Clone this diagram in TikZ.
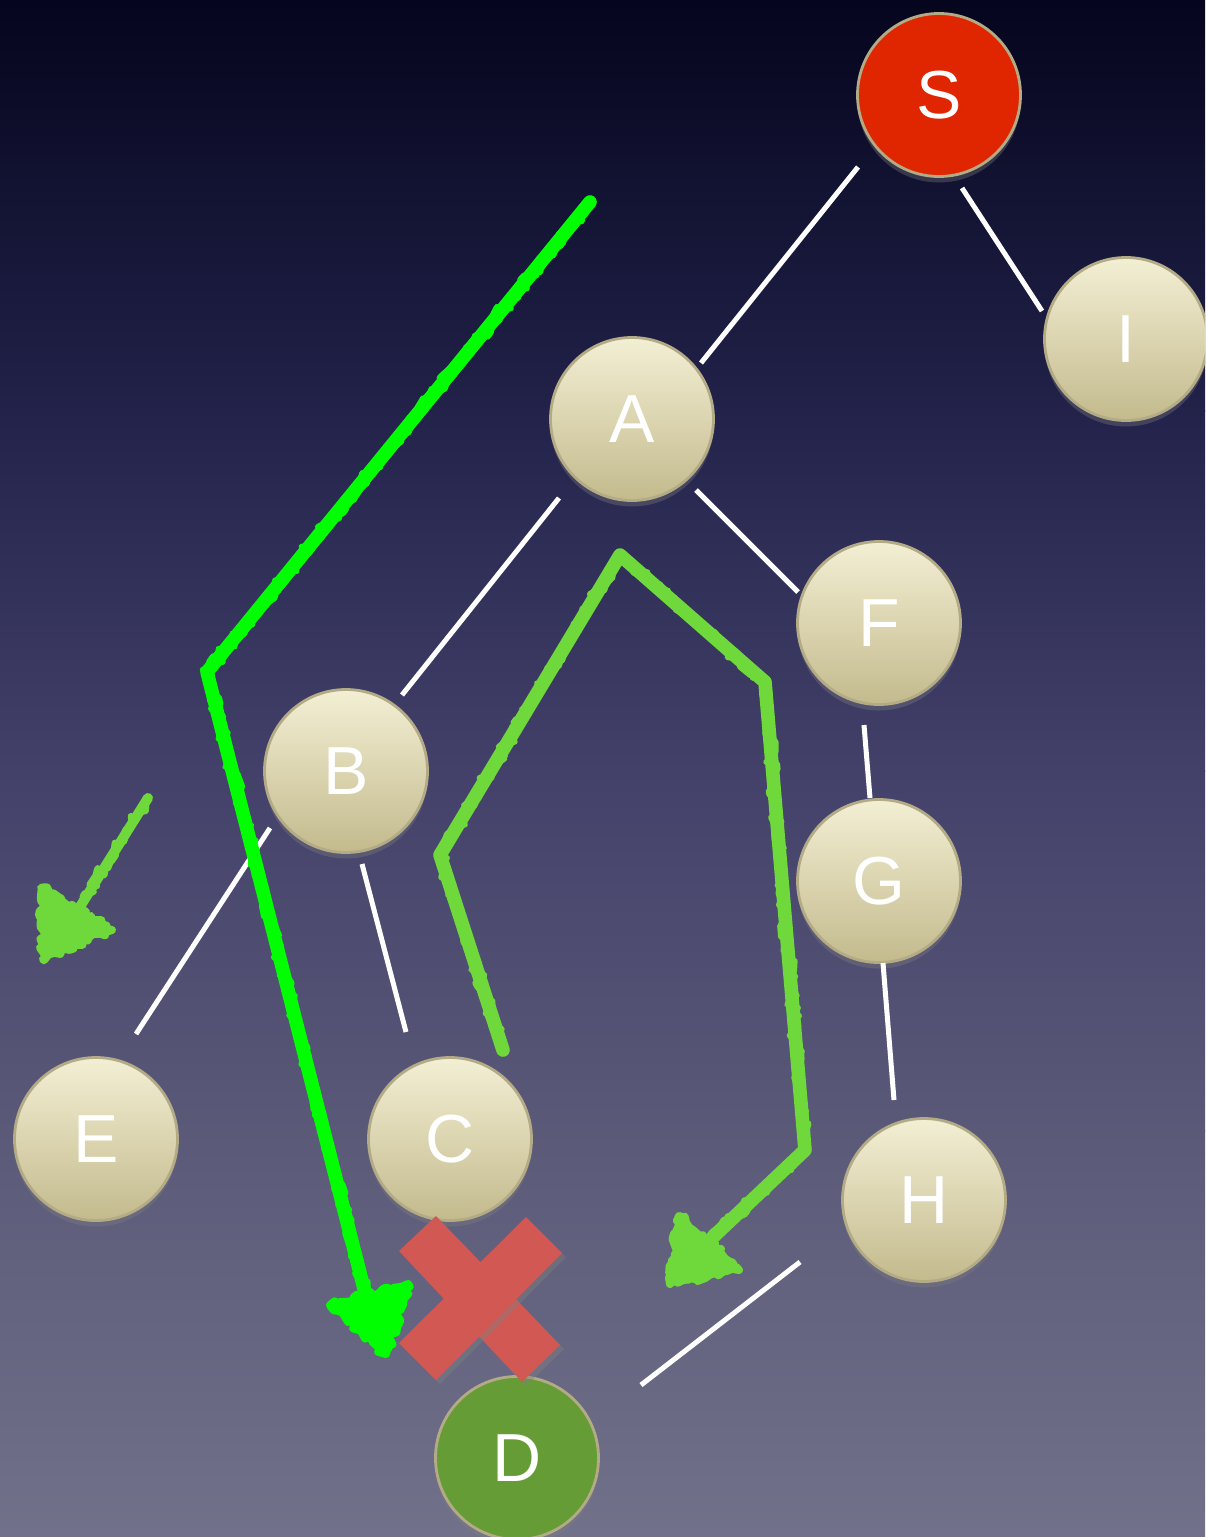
\documentclass[tikz,border=0pt]{standalone}
\usepackage{fontspec}
\setmainfont{Liberation Sans}
\usetikzlibrary{shadows,calc,decorations.pathmorphing}
\definecolor{bg0}{HTML}{05051E}
\definecolor{bg1}{HTML}{22224A}
\definecolor{bg2}{HTML}{43416A}
\definecolor{bg3}{HTML}{5A5978}
\definecolor{bg4}{HTML}{72718A}
\definecolor{creamtop}{HTML}{F3EFD4}
\definecolor{creambot}{HTML}{C3BA8D}
\definecolor{rim}{HTML}{B3AA86}
\definecolor{sred}{HTML}{E02600}
\definecolor{dgreen}{HTML}{669C35}
\definecolor{xred}{HTML}{D15853}
\definecolor{brightg}{HTML}{00FF00}
\definecolor{softg}{HTML}{6FD83B}
\pgfmathsetseed{7}
\begin{document}
\begin{tikzpicture}[x=0.5pt,y=-0.5pt,
  nbase/.style={circle, minimum size=81.5pt, inner sep=0pt, draw=rim, line width=1.4pt,
    text=white, font=\fontsize{34pt}{40pt}\selectfont,
    drop shadow={opacity=0.35, shadow xshift=0pt, shadow yshift=-3pt}},
  cream/.style={nbase, top color=creamtop, bottom color=creambot},
  redn/.style={nbase, fill=sred},
  greenn/.style={nbase, fill=dgreen},
  edge/.style={white, line width=2.5pt},
  chalk/.style={line width=6.8pt, line cap=round, line join=round,
    postaction={draw, line width=3.2pt, line cap=round, line join=round, decorate,
      decoration={random steps, segment length=2pt, amplitude=2.8pt}}},
  chalkhead/.style={line width=4pt, line join=round, decorate,
    decoration={random steps, segment length=2pt, amplitude=1.8pt}},
  xbar/.style={fill=xred, drop shadow={opacity=0.4, shadow xshift=2pt, shadow yshift=-2pt}}]
\useasboundingbox (0,0) rectangle (1205,1537);
\clip (0,0) rectangle (1205,1537);
% background gradient in bands
\shade[top color=bg0, bottom color=bg1] (0,0) rectangle (1205,411);
\shade[top color=bg1, bottom color=bg2] (0,410) rectangle (1205,771);
\shade[top color=bg2, bottom color=bg3] (0,770) rectangle (1205,1131);
\shade[top color=bg3, bottom color=bg4] (0,1130) rectangle (1205,1537);

% nodes
\node[redn]   (S) at (939,95)   {S};
\node[cream]  (I) at (1126,339) {I};
\node[cream]  (A) at (632,419)  {A};
\node[cream]  (F) at (879,623)  {F};
\node[cream]  (B) at (346,771)  {B};
\node[cream]  (G) at (879,881)  {G};
\node[cream]  (E) at (96,1139)  {E};
\node[cream]  (C) at (450,1139) {C};
\node[cream]  (H) at (924,1200) {H};
\node[greenn] (D) at (517,1458) {D};

% edges
\draw[edge] ($(S)+(-81,72)$) -- ($(A)+(69,-56)$);
\draw[edge] ($(S)+(23,93)$) -- ($(I)+(-84,-28)$);
\draw[edge] ($(A)+(-73,79)$) -- ($(B)+(56,-76)$);
\draw[edge] ($(A)+(64,71)$) -- ($(F)+(-81,-31)$);
\draw[edge] ($(F)+(-15,102)$) -- ($(G)+(-9,-83)$);
\draw[edge] ($(B)+(-76,57)$) -- ($(E)+(40,-105)$);
\draw[edge] ($(B)+(16,93)$) -- ($(C)+(-44,-107)$);
\draw[edge] ($(G)+(4,82)$) -- ($(H)+(-30,-100)$);
\draw[edge] ($(H)+(-124,62)$) -- ($(D)+(124,-73)$);

% red cross
\fill[xbar] (436,1216) -- (560,1345) -- (522,1382) -- (399,1251) -- cycle;
\fill[xbar] (526,1217) -- (562,1253) -- (436,1380) -- (399,1343) -- cycle;

% green arrow 1
\coordinate (p1) at (590,202);
\coordinate (p2) at (207,672);
\coordinate (p3) at (372,1320);
\draw[chalk, brightg] (p1) -- (p2) -- (p3);
\coordinate (h1a) at (386,1354);
\coordinate (h1b) at (330,1305);
\coordinate (h1c) at (408,1284);
\filldraw[chalkhead, brightg] (h1a) -- (h1b) -- (h1c) -- cycle;

% green arrow 2
\coordinate (q1) at (148,798);
\coordinate (q2) at (78,910);
\draw[chalk, softg, line width=5pt] (q1) -- (q2);
\coordinate (h2a) at (43,959);
\coordinate (h2b) at (41,888);
\coordinate (h2c) at (112,930);
\filldraw[chalkhead, softg] (h2a) -- (h2b) -- (h2c) -- cycle;

% green arrow 3
\coordinate (r1) at (503,1050);
\coordinate (r2) at (440,855);
\coordinate (r3) at (620,555);
\coordinate (r4) at (765,682);
\coordinate (r5) at (805,1150);
\coordinate (r6) at (712,1238);
\draw[chalk, softg] (r1) -- (r2) -- (r3) -- (r4) -- (r5) -- (r6);
\coordinate (h3a) at (670,1284);
\coordinate (h3b) at (679,1216);
\coordinate (h3c) at (739,1270);
\filldraw[chalkhead, softg] (h3a) -- (h3b) -- (h3c) -- cycle;
\end{tikzpicture}
\end{document}
